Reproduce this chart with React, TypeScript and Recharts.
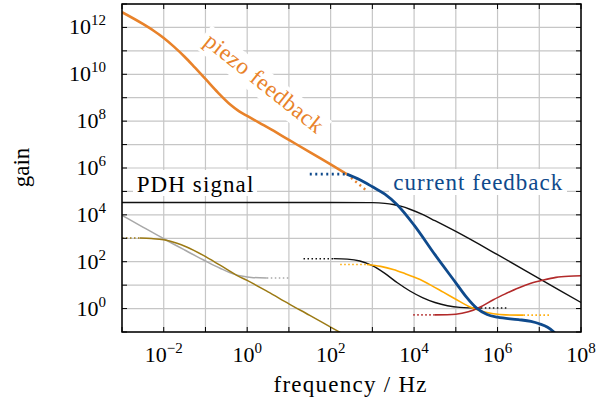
import { LineChart, Line, XAxis, YAxis, CartesianGrid } from 'recharts';

const W = 600;
const H = 408;
const PLOT = { left: 122, top: 4, right: 581, bottom: 332 };
const FONT = "'Liberation Serif', 'DejaVu Serif', serif";

// axis decades (log10 of frequency / gain)
const xTicks = [-3, -2, -1, 0, 1, 2, 3, 4, 5, 6, 7, 8];
const yTicks = [-1, 0, 1, 2, 3, 4, 5, 6, 7, 8, 9, 10, 11, 12, 13];

// piezo feedback
const piezoF = [-3, -2.5, -2.25, -2, -1.75, -1.5, -1.25, -1, -0.7, -0.4, -0.2, 0, 0.5, 1, 1.5, 2, 2.39];
const piezoG = [12.65, 12.15, 11.87, 11.55, 11.17, 10.75, 10.28, 9.8, 9.22, 8.7, 8.43, 8.22, 7.72, 7.2, 6.68, 6.15, 5.74];
const piezoDotF = [2.39, 2.6, 2.87];
const piezoDotG = [5.74, 5.42, 5.02];

// current feedback
const currDotF = [1.5, 2.39];
const currDotG = [5.74, 5.74];
const currF = [2.39, 2.7, 3.0, 3.3, 3.6, 4.0, 4.5, 5.0, 5.25, 5.5, 5.75, 6.0, 6.5, 6.8, 7.0, 7.2, 7.35, 7.5];
const currG = [5.74, 5.5, 5.2, 4.88, 4.42, 3.56, 2.3, 1.1, 0.5, 0.02, -0.25, -0.37, -0.47, -0.55, -0.65, -0.8, -1.0, -1.3];

// PDH signal
const pdhF = [-3, 2, 3, 3.3, 3.5, 3.7, 3.9, 4.2, 4.5, 5, 6, 7, 8];
const pdhG = [4.53, 4.53, 4.52, 4.49, 4.44, 4.36, 4.24, 4.02, 3.75, 3.29, 2.3, 1.28, 0.26];

// lower black
const blkDotF = [1.35, 2.07];
const blkDotG = [2.13, 2.13];
const blkF = [2.07, 2.4, 2.7, 3.0, 3.3, 3.6, 3.9, 4.2, 4.5, 4.8, 5.1, 5.6];
const blkG = [2.13, 2.11, 2.03, 1.83, 1.5, 1.1, 0.75, 0.47, 0.26, 0.12, 0.05, 0.02];
const blkTailF = [5.6, 6.27];
const blkTailG = [0.02, 0.02];

// yellow
const yelDotF = [2.23, 2.87];
const yelDotG = [1.88, 1.88];
const yelF = [2.87, 3.2, 3.5, 3.8, 4.1, 4.4, 4.7, 5.0, 5.3, 5.6, 5.9, 6.2, 6.62];
const yelG = [1.88, 1.8, 1.67, 1.48, 1.27, 1.0, 0.7, 0.4, 0.1, -0.1, -0.22, -0.27, -0.28];
const yelTailF = [6.62, 7.26];
const yelTailG = [-0.28, -0.28];

// red
const redDotF = [3.98, 4.5];
const redDotG = [-0.27, -0.27];
const redF = [4.5, 5.0, 5.3, 5.6, 5.9, 6.2, 6.5, 6.8, 7.1, 7.4, 7.7, 8.0];
const redG = [-0.27, -0.24, -0.14, 0.08, 0.38, 0.64, 0.88, 1.08, 1.22, 1.33, 1.38, 1.4];

// gray
const grayF = [-3, -2.5, -2, -1.5, -1, -0.65, -0.3, -0.1, 0.1, 0.47];
const grayG = [3.98, 3.48, 2.98, 2.5, 2.03, 1.72, 1.46, 1.38, 1.33, 1.3];
const grayDotF = [0.47, 0.99];
const grayDotG = [1.3, 1.3];

// olive
const oliveDotF = [-3, -2.57];
const oliveDotG = [3.01, 3.01];
const oliveF = [-2.57, -2.3, -2, -1.7, -1.45, -1.05, -0.65, -0.25, 0, 0.5, 1, 1.5, 2, 2.5];
const oliveG = [3.01, 2.99, 2.94, 2.8, 2.63, 2.27, 1.85, 1.42, 1.2, 0.71, 0.2, -0.29, -0.79, -1.29];

const C = {
  piezo: '#e8822a',
  blue: '#0f4a8c',
  black: '#111111',
  yellow: '#ffaa00',
  red: '#b22a2a',
  gray: '#a8a8a8',
  olive: '#9c7a14',
};

function zip(f: number[], g: number[]) {
  return f.map((x, i) => ({ x, y: g[i] }));
}

function expLabel(e: number) {
  return e < 0 ? '\u2212' + -e : String(e);
}

const textStyle = { fontFamily: FONT };

function XTick({ x, payload }: any) {
  const e = payload.value;
  return (
    <g>
      <line x1={x} x2={x} y1={PLOT.bottom} y2={PLOT.bottom - 5} stroke="#000" strokeWidth={1} />
      <line x1={x} x2={x} y1={PLOT.top} y2={PLOT.top + 5} stroke="#000" strokeWidth={1} />
      {e % 2 === 0 && (
        <text x={x} y={362} textAnchor="middle" style={textStyle} fontSize={22} fill="#000">
          10<tspan dy={-9} fontSize={15}>{expLabel(e)}</tspan>
        </text>
      )}
    </g>
  );
}

function YTick({ y, payload }: any) {
  const e = payload.value;
  return (
    <g>
      <line x1={PLOT.left} x2={PLOT.left + 5} y1={y} y2={y} stroke="#000" strokeWidth={1} />
      <line x1={PLOT.right - 5} x2={PLOT.right} y1={y} y2={y} stroke="#000" strokeWidth={1} />
      {e % 2 === 0 && (
        <text x={106} y={y + 7} textAnchor="end" style={textStyle} fontSize={22} fill="#000">
          10<tspan dy={-9} fontSize={15}>{expLabel(e)}</tspan>
        </text>
      )}
    </g>
  );
}

export default function App() {
  const solid = (key: string, f: number[], g: number[], color: string, w: number) => (
    <Line
      key={key}
      data={zip(f, g)}
      dataKey="y"
      type="monotone"
      stroke={color}
      strokeWidth={w}
      dot={false}
      isAnimationActive={false}
    />
  );
  const dotted = (key: string, f: number[], g: number[], color: string, w: number, dash: string) => (
    <Line
      key={key}
      data={zip(f, g)}
      dataKey="y"
      type="linear"
      stroke={color}
      strokeWidth={w}
      strokeDasharray={dash}
      dot={false}
      isAnimationActive={false}
    />
  );

  return (
    <div style={{ position: 'absolute', left: 0, top: 0, width: W, height: H, background: '#fff', fontFamily: FONT }}>
      <LineChart width={W} height={H} margin={{ top: PLOT.top, right: W - PLOT.right, bottom: 0, left: 0 }}>
        <CartesianGrid stroke="#c6c6c6" strokeWidth={1.2} />
        <XAxis
          dataKey="x"
          type="number"
          domain={[-3, 8]}
          ticks={xTicks}
          interval={0}
          allowDataOverflow
          axisLine={false}
          tickLine={false}
          height={H - PLOT.bottom}
          tick={(p: any) => <XTick {...p} />}
        />
        <YAxis
          type="number"
          domain={[-1, 13]}
          ticks={yTicks}
          interval={0}
          allowDataOverflow
          axisLine={false}
          tickLine={false}
          width={PLOT.left}
          tick={(p: any) => <YTick {...p} />}
        />
        {solid('gray', grayF, grayG, C.gray, 1.5)}
        {dotted('grayDot', grayDotF, grayDotG, C.gray, 1.5, '1.5 2.5')}
        {dotted('oliveDot', oliveDotF, oliveDotG, C.olive, 1.5, '1.5 2.5')}
        {solid('olive', oliveF, oliveG, C.olive, 1.5)}
        {solid('pdh', pdhF, pdhG, C.black, 1.4)}
        {dotted('blkDot', blkDotF, blkDotG, C.black, 1.5, '1.5 2.5')}
        {solid('blk', blkF, blkG, C.black, 1.4)}
        {dotted('blkTail', blkTailF, blkTailG, C.black, 1.5, '1.5 2.5')}
        {dotted('yelDot', yelDotF, yelDotG, C.yellow, 1.6, '1.5 2.5')}
        {solid('yel', yelF, yelG, C.yellow, 1.6)}
        {dotted('yelTail', yelTailF, yelTailG, C.yellow, 1.6, '1.5 2.5')}
        {dotted('redDot', redDotF, redDotG, C.red, 1.6, '1.5 2.5')}
        {solid('red', redF, redG, C.red, 1.6)}
        {solid('piezo', piezoF, piezoG, C.piezo, 2.6)}
        {dotted('piezoDot', piezoDotF, piezoDotG, C.piezo, 2.4, '2 3.5')}
        {dotted('currDot', currDotF, currDotG, C.blue, 2.6, '2 3.5')}
        {solid('curr', currF, currG, C.blue, 2.8)}
      </LineChart>

      <svg
        width={W}
        height={H}
        style={{ position: 'absolute', left: 0, top: 0, pointerEvents: 'none', fontFamily: FONT }}
      >
        <rect
          x={PLOT.left}
          y={PLOT.top}
          width={PLOT.right - PLOT.left}
          height={PLOT.bottom - PLOT.top}
          fill="none"
          stroke="#000"
          strokeWidth={1.5}
        />
        <rect x={133} y={170} width={124} height={26} fill="#fff" />
        <text x={136.7} y={191.7} fontSize={23} fill="#000" style={textStyle} textLength={116.6} lengthAdjust="spacing">
          PDH signal
        </text>
        <rect x={389} y={169} width={178} height={26} fill="#fff" />
        <text x={393.3} y={189.5} fontSize={23} fill={C.blue} style={textStyle} textLength={169} lengthAdjust="spacing">
          current feedback
        </text>
        <g transform="translate(262.5,85) rotate(38.5)">
          <rect x={-77} y={-15} width={154} height={28} fill="#fff" />
          <text x={0} y={5} fontSize={23} fill={C.piezo} style={textStyle} textAnchor="middle" textLength={145} lengthAdjust="spacing">
            piezo feedback
          </text>
        </g>
        <text x={350} y={391.7} fontSize={23} fill="#000" style={textStyle} textAnchor="middle" textLength={153} lengthAdjust="spacing">
          frequency / Hz
        </text>
        <text transform="translate(29,167.5) rotate(-90)" fontSize={23} fill="#000" style={textStyle} textAnchor="middle">
          gain
        </text>
      </svg>
    </div>
  );
}
